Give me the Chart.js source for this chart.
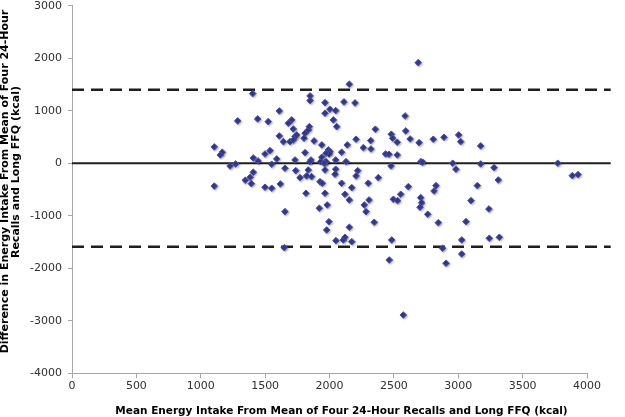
<!DOCTYPE html>
<html>
<head>
<meta charset="utf-8">
<script src="https://cdn.jsdelivr.net/npm/chart.js@4"></script>
<style>
  html, body { margin: 0; padding: 0; background: #ffffff; }
  #wrap { width: 625px; height: 417px; }
</style>
</head>
<body>
<div id="wrap"><canvas id="c" width="625" height="417"></canvas></div>
<script>
// Mean energy intake (x, kcal) and difference (y, kcal) for each participant
const meanIntake = [
  1105,1167,1152,1105,1228,1271,1287,1403,1442,1408,1445,1408,1384,1346,1393,
  1524,1610,1680,1706,1719,1610,1642,1693,1732,1719,1745,1802,1810,1835,1843,
  1849,1849,1965,1965,1880,1940,1991,1499,1538,1590,1551,1654,1738,1732,1810,
  1856,1771,1822,1861,1835,1931,1965,1965,1926,1944,1499,1551,1618,1817,1965,
  1654,1921,1982,1996,1978,1649,1940,
  2689,2154,2112,2198,2003,2048,2030,2056,2003,1998,1973,2138,2206,2263,2320,
  2322,2356,2480,2491,2526,2587,2592,2626,2696,2806,2436,2462,2526,2094,1973,
  1959,2048,2128,1849,2043,2206,2219,2379,2478,2710,2724,2612,2827,2301,2173,
  2094,2050,2107,2120,2173,2154,2120,2154,2048,2270,2284,2307,2347,2483,2464,
  2496,2529,2553,2573,2708,2716,2703,2763,2845,2812,2889,3003,3019,3174,2957,
  2982,3174,3278,3311,3773,3886,3930,3148,3099,3238,3060,2879,3027,3027,2905,
  3241,3319
];
const diffIntake = [
  311,210,158,-435,-52,-13,806,1326,844,101,44,-171,-267,-324,-389,
  792,996,762,825,653,520,411,411,507,444,539,476,572,634,697,
  1282,1193,1154,953,425,349,253,177,240,82,-19,-95,-141,63,202,
  63,-274,-242,-255,-128,30,11,-128,-351,-381,-457,-476,-394,-572,-572,
  -922,-857,-794,-1113,-1271,-1608,114,
  1916,1505,1168,1149,1029,1002,825,697,221,177,190,349,457,297,431,
  272,648,552,476,400,901,615,463,392,457,177,171,158,210,30,
  0,63,30,30,-210,-242,-141,-274,-51,30,19,-446,-427,-381,-465,
  -381,-1474,-1461,-1410,-1494,-1219,-591,-699,-114,-794,-922,-699,-1124,-1461,-1842,
  -686,-712,-591,-2890,-655,-751,-838,-972,-1132,-528,495,539,411,330,0,
  -114,-13,-84,-318,0,-236,-217,-426,-712,-871,-1112,-1619,-1461,-1728,-1905,
  -1429,-1410
];
// Reference levels (kcal); the reference lines run a little past the axis end
const meanLevel = 0;
const upperLimit = 1400;
const lowerLimit = -1590;
const lineXRange = [0, 4184];
// Tick labels
const xTicks = [0, 500, 1000, 1500, 2000, 2500, 3000, 3500, 4000];
const yTicks = [-4000, -3000, -2000, -1000, 0, 1000, 2000, 3000];
// Axis titles
const xTitle = 'Mean Energy Intake From Mean of Four 24-Hour Recalls and Long FFQ (kcal)';
const yTitleLines = ['Difference in Energy Intake From Mean of Four 24-Hour', 'Recalls and Long FFQ (kcal)'];

const points = meanIntake.map((x, i) => ({ x: x, y: diffIntake[i] }));
const hline = v => lineXRange.map(x => ({ x: x, y: v }));

const FONT = 'DejaVu Sans, Verdana, sans-serif';

const shadowPlugin = {
  id: 'markerShadow',
  beforeDatasetDraw(chart, args) {
    if (args.index === 0) {
      const ctx = chart.ctx;
      ctx.save();
      ctx.shadowColor = 'rgba(0,0,0,0.28)';
      ctx.shadowBlur = 2;
      ctx.shadowOffsetX = 1;
      ctx.shadowOffsetY = 1;
    }
  },
  afterDatasetDraw(chart, args) {
    if (args.index === 0) chart.ctx.restore();
  }
};

const titlesPlugin = {
  id: 'axisTitles',
  afterDraw(chart) {
    const ctx = chart.ctx;
    ctx.save();
    ctx.fillStyle = '#000000';
    ctx.textAlign = 'center';
    ctx.textBaseline = 'middle';
    // x title
    ctx.font = 'bold 10.5px ' + FONT;
    ctx.fillText(xTitle, 341.5, 411.5);
    // y title (rotated, two lines)
    ctx.font = 'bold 11px ' + FONT;
    ctx.save();
    ctx.translate(5.5, 181.5);
    ctx.rotate(-Math.PI / 2);
    ctx.fillText(yTitleLines[0], 0, 0);
    ctx.restore();
    ctx.save();
    ctx.translate(16, 172);
    ctx.rotate(-Math.PI / 2);
    ctx.fillText(yTitleLines[1], 0, 0);
    ctx.restore();
    ctx.restore();
  }
};

const axisFont = { family: FONT, size: 11 };

new Chart(document.getElementById('c'), {
  type: 'scatter',
  data: {
    datasets: [
      {
        data: points,
        pointStyle: 'rectRot',
        pointRadius: 3.3,
        pointBackgroundColor: '#383c8c',
        pointBorderColor: '#4d52a3',
        pointBorderWidth: 1,
        showLine: false
      },
      {
        data: hline(meanLevel), showLine: true, pointRadius: 0, clip: false,
        borderColor: '#1e1e1e', borderWidth: 2.2, fill: false
      },
      {
        data: hline(upperLimit), showLine: true, pointRadius: 0, clip: false,
        borderColor: '#1e1e1e', borderWidth: 2.6, borderDash: [12, 7], fill: false
      },
      {
        data: hline(lowerLimit), showLine: true, pointRadius: 0, clip: false,
        borderColor: '#1e1e1e', borderWidth: 2.6, borderDash: [12, 7], fill: false
      }
    ]
  },
  options: {
    responsive: false,
    animation: false,
    devicePixelRatio: 1,
    layout: { padding: { left: 0, right: 38, top: 5.7, bottom: 0 } },
    plugins: { legend: { display: false }, tooltip: { enabled: false } },
    scales: {
      x: {
        type: 'linear',
        min: xTicks[0], max: xTicks[xTicks.length - 1],
        afterBuildTicks: s => { s.ticks = xTicks.map(v => ({ value: v })); },
        afterFit: s => { s.height = 43.7; s.paddingLeft = 0; s.paddingRight = 0; },
        border: { display: true, color: '#a6a6a6', width: 1 },
        grid: { display: true, drawOnChartArea: false, drawTicks: true, tickLength: 5, color: '#a6a6a6' },
        ticks: { font: axisFont, color: '#303030', padding: 1, maxRotation: 0, callback: v => String(v) }
      },
      y: {
        type: 'linear',
        min: yTicks[0], max: yTicks[yTicks.length - 1],
        afterBuildTicks: s => { s.ticks = yTicks.map(v => ({ value: v })); },
        afterFit: s => { s.width = 72; s.paddingTop = 0; s.paddingBottom = 0; },
        border: { display: true, color: '#a6a6a6', width: 1 },
        grid: { display: true, drawOnChartArea: false, drawTicks: true, tickLength: 4, color: '#a6a6a6' },
        ticks: { font: axisFont, color: '#303030', padding: 6, callback: v => String(v) }
      }
    }
  },
  plugins: [shadowPlugin, titlesPlugin]
});
</script>
</body>
</html>
